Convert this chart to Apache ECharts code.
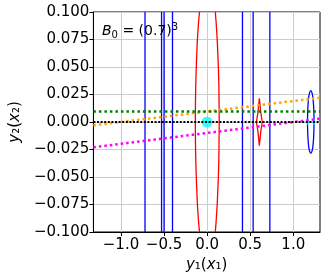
<!DOCTYPE html>
<html>
<head>
<meta charset="utf-8">
<script src="https://cdn.jsdelivr.net/npm/echarts@6/dist/echarts.min.js"></script>
<style>html,body{margin:0;padding:0;background:#fff;}#c{width:327px;height:280px;}</style>
</head>
<body>
<div id="c"></div>
<script>
// ---- data ----
const xTicks = [-1.0, -0.5, 0.0, 0.5, 1.0];
const yTicks = [-0.100, -0.075, -0.050, -0.025, 0.000, 0.025, 0.050, 0.075, 0.100];
const blueLineX = [-0.721, -0.529, -0.500, -0.402, 0.410, 0.534, 0.728];
const redEllipseLeft = [[-0.089,0.1],[-0.109,0.08],[-0.121,0.06],[-0.130,0.04],[-0.135,0.02],[-0.137,0],[-0.135,-0.02],[-0.130,-0.04],[-0.121,-0.06],[-0.109,-0.08],[-0.089,-0.1]];
const redEllipseRight = [[0.095,0.1],[0.113,0.08],[0.125,0.06],[0.134,0.04],[0.138,0.02],[0.140,0],[0.138,-0.02],[0.134,-0.04],[0.125,-0.06],[0.113,-0.08],[0.095,-0.1]];
const redDiamond = [[0.606,0.0215],[0.622,0.009],[0.640,0.0],[0.622,-0.009],[0.606,-0.0215],[0.590,-0.009],[0.572,0.0],[0.590,0.009],[0.606,0.0215]];
const blueEllipse = [[1.241,0],[1.238,0.0109],[1.230,0.0202],[1.218,0.0263],[1.203,0.0285],[1.188,0.0263],[1.176,0.0202],[1.168,0.0109],[1.165,0],[1.168,-0.0109],[1.176,-0.0202],[1.188,-0.0263],[1.203,-0.0285],[1.218,-0.0263],[1.230,-0.0202],[1.238,-0.0109],[1.241,0]];
const cyanCircle = [[0.0, 0.0]];
const cyanBowtie = [[1.203, 0.0]];
const blackDotted = [[-1.32, 0.0], [1.31, 0.0]];
const greenDotted = [[-1.32, 0.0095], [1.31, 0.0095]];
const orangeDotted = [[-1.32, -0.003], [1.31, 0.022]];
const magentaDotted = [[-1.32, -0.023], [1.31, 0.003]];
const annotation = '{i|B}{s|0}{n| = (0.7)}{p|3}';

const FONT = 'DejaVu Sans';
const chart = echarts.init(document.getElementById('c'), null, {renderer: 'canvas'});

const series = [];
blueLineX.forEach(function (x) {
  series.push({type: 'line', data: [[x, -0.1], [x, 0.1]], showSymbol: false, silent: true,
    lineStyle: {color: '#0000ff', width: 1.3}, z: 2});
});
[redEllipseLeft, redEllipseRight].forEach(function (d) {
  series.push({type: 'line', data: d, smooth: true, showSymbol: false, silent: true,
    lineStyle: {color: '#ff0000', width: 1.3}, z: 2});
});
series.push({type: 'line', data: redDiamond, showSymbol: false, silent: true,
  lineStyle: {color: '#ff0000', width: 1.3}, z: 2});
series.push({type: 'line', data: blueEllipse, smooth: true, showSymbol: false, silent: true,
  lineStyle: {color: '#0000ff', width: 1.3}, z: 2});
series.push({type: 'scatter', data: cyanCircle, symbol: 'circle', symbolSize: 11,
  itemStyle: {color: '#00ffff'}, z: 3});
series.push({type: 'scatter', data: cyanBowtie, symbol: 'path://M0,0L10,6L0,12ZM20,0L10,6L20,12Z', symbolSize: [8, 7],
  itemStyle: {color: '#00ffff'}, z: 3});
series.push({type: 'line', data: magentaDotted, showSymbol: false, silent: true,
  lineStyle: {color: '#ff00ff', width: 2.5, type: [2.5, 3]}, z: 4});
series.push({type: 'line', data: orangeDotted, showSymbol: false, silent: true,
  lineStyle: {color: '#ffa500', width: 2.5, type: [2.5, 3]}, z: 4});
series.push({type: 'line', data: greenDotted, showSymbol: false, silent: true,
  lineStyle: {color: '#008000', width: 2.5, type: [2.5, 3]}, z: 4});
series.push({type: 'line', data: blackDotted, showSymbol: false, silent: true,
  lineStyle: {color: '#000000', width: 2, type: [2, 1.6]}, z: 5});

chart.setOption({
  animation: false,
  backgroundColor: '#ffffff',
  textStyle: {fontFamily: FONT},
  grid: {left: 91, right: 7, top: 12, bottom: 48, show: true, borderColor: '#000', borderWidth: 1, backgroundColor: 'transparent'},
  xAxis: {
    type: 'value', min: -1.32, max: 1.31,
    name: '{i|y}{n|₁(}{i|x}{n|₁)}', nameLocation: 'middle', nameGap: 21,
    nameTextStyle: {rich: {i: {fontFamily: FONT, fontSize: 15, fontStyle: 'italic', color: '#000'}, n: {fontFamily: FONT, fontSize: 15, color: '#000'}}},
    axisLine: {show: true, onZero: false, lineStyle: {color: '#000', width: 1}},
    axisTick: {show: true, length: 4, customValues: xTicks, lineStyle: {color: '#000'}},
    axisLabel: {customValues: xTicks, margin: 6, fontSize: 15, color: '#000', fontFamily: FONT,
      formatter: function (v) { return v.toFixed(1).replace('-', '\u2212'); }},
    splitLine: {show: true, lineStyle: {color: '#cccccc', width: 1}}
  },
  yAxis: {
    type: 'value', min: -0.1, max: 0.1, interval: 0.025,
    name: '{i|y}{n|₂(}{i|x}{n|₂)}', nameLocation: 'middle', nameGap: 63,
    nameTextStyle: {rich: {i: {fontFamily: FONT, fontSize: 15, fontStyle: 'italic', color: '#000'}, n: {fontFamily: FONT, fontSize: 15, color: '#000'}}},
    axisLine: {show: true, onZero: false, lineStyle: {color: '#000', width: 1}},
    axisTick: {show: true, length: 4, lineStyle: {color: '#000'}},
    axisLabel: {margin: 4, fontSize: 15, color: '#000', fontFamily: FONT,
      formatter: function (v) { return v.toFixed(3).replace('-', '\u2212'); }},
    splitLine: {show: true, lineStyle: {color: '#cccccc', width: 1}}
  },
  graphic: [{
    type: 'text', left: 102, top: 22, z: 10,
    style: {text: annotation, fill: '#000',
      rich: {
        i: {fontFamily: FONT, fontSize: 14, fontStyle: 'italic', fill: '#000'},
        s: {fontFamily: FONT, fontSize: 10, fill: '#000', padding: [8, 0, 0, 0]},
        n: {fontFamily: FONT, fontSize: 14, fill: '#000'},
        p: {fontFamily: FONT, fontSize: 10, fill: '#000', padding: [0, 0, 8, 0]}
      }}
  }],
  series: series
});
</script>
</body>
</html>
